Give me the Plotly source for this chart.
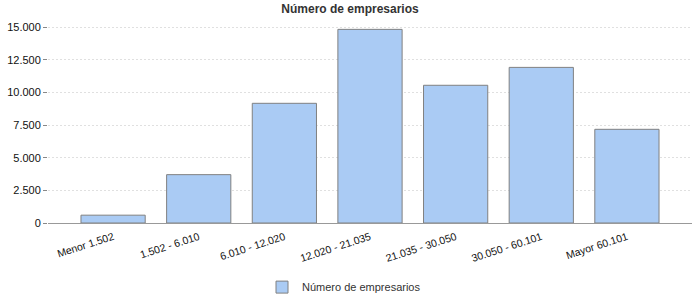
import plotly.graph_objects as go

categories = ["Menor 1.502", "1.502 - 6.010", "6.010 - 12.020", "12.020 - 21.035",
              "21.035 - 30.050", "30.050 - 60.101", "Mayor 60.101"]
values = [600, 3700, 9160, 14820, 10540, 11910, 7170]
series_name = "Número de empresarios"

fig = go.Figure()
fig.add_trace(go.Bar(
    x=categories, y=values, name=series_name,
    marker=dict(color="#aacbf4", line=dict(color="#808080", width=1)),
    showlegend=True,
))
fig.update_layout(
    width=700, height=300,
    margin=dict(l=48, r=8, t=25, b=77, autoexpand=False),
    paper_bgcolor="white", plot_bgcolor="white",
    font=dict(family="Liberation Sans, Arial, sans-serif", size=11, color="#333333"),
    separators=",.",
    title=dict(text="<b>Número de empresarios</b>", x=0.5, xanchor="center",
               y=0.985, yanchor="top", font=dict(size=12, color="#333333")),
    bargap=0.25,
    showlegend=True,
    legend=dict(orientation="h", x=262 / 700, xanchor="left", xref="container",
                y=0.043, yanchor="middle", yref="container",
                itemwidth=30, font=dict(size=11, color="#333333")),
    xaxis=dict(range=[-0.76, 6.76], showline=True, linecolor="#999999", linewidth=1,
               ticks="", tickangle=-18, tickfont=dict(size=10.5, color="#111111"),
               ticklabelstandoff=3,
               showgrid=False, automargin=False),
    yaxis=dict(range=[0, 15153], dtick=2500, tickformat=",.0f", showline=False,
               ticks="outside", ticklen=4, tickcolor="#888888",
               showgrid=True, gridcolor="#e0e0e0", griddash="2px,2px", gridwidth=1,
               zeroline=False, tickfont=dict(size=11, color="#111111"), automargin=False),
)
fig.write_html("out.html")
